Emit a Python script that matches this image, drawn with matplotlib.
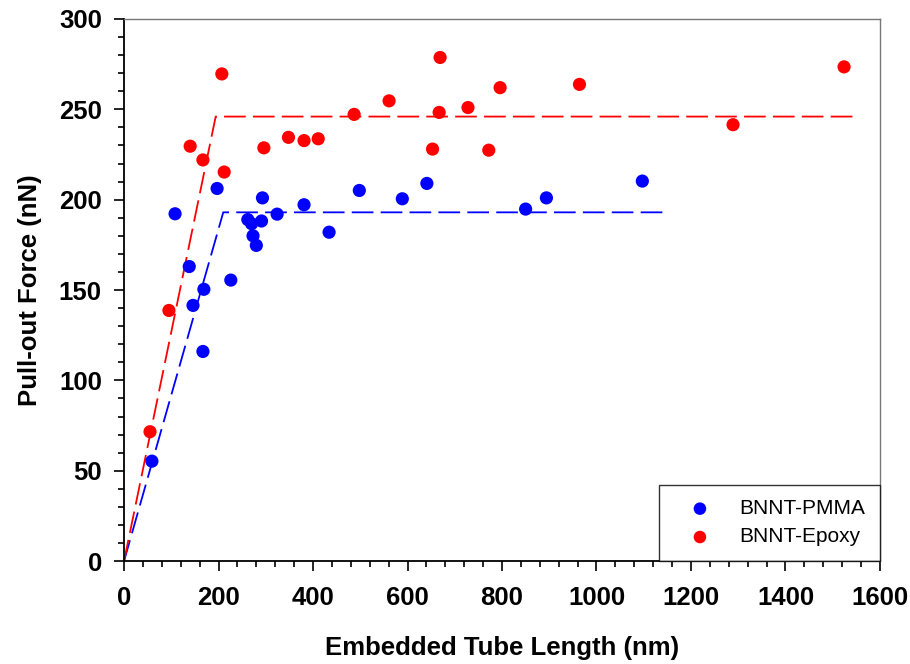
import matplotlib.pyplot as plt
from matplotlib.ticker import MultipleLocator

plt.rcParams['font.family'] = ['Liberation Sans', 'DejaVu Sans']

# BNNT-PMMA pull-out data
pmma_x = [59, 108, 138, 146, 167, 169, 197, 226, 262, 270, 273, 280, 291, 293,
          324, 381, 434, 498, 589, 641, 850, 894, 1097]
pmma_y = [55.3, 192.2, 163, 141.5, 116, 150.4, 206.2, 155.5, 189, 186.7, 180,
          174.7, 188.2, 201, 192, 197.2, 182, 205.1, 200.5, 209, 194.8, 201, 210.3]

# BNNT-Epoxy pull-out data
epoxy_x = [55, 95, 140, 167, 207, 212, 296, 348, 381, 411, 487, 561, 653, 667,
           669, 728, 772, 796, 964, 1289, 1524]
epoxy_y = [71.6, 138.7, 229.6, 222, 269.6, 215.3, 228.7, 234.5, 232.7, 233.7,
           247.2, 254.7, 228, 248.3, 278.7, 251, 227.4, 262, 263.8, 241.5, 273.5]

# bilinear fits
pmma_fit_x = [0, 210, 1151]
pmma_fit_y = [0, 193, 193]
epoxy_fit_x = [0, 194, 1549]
epoxy_fit_y = [0, 246, 246]

fig = plt.figure(figsize=(9.1, 6.64), dpi=100)
ax = fig.add_axes([0.1363, 0.155, 0.8307, 0.8164])

ax.plot(pmma_fit_x, pmma_fit_y, color='#0000ff', lw=1.3, dashes=(12, 4), zorder=2)
ax.plot(epoxy_fit_x, epoxy_fit_y, color='#ff0000', lw=1.3, dashes=(12, 4), zorder=2)

ax.scatter(pmma_x, pmma_y, s=90, color='#0000ff', edgecolors='none',
           label='BNNT-PMMA', zorder=3)
ax.scatter(epoxy_x, epoxy_y, s=90, color='#ff0000', edgecolors='none',
           label='BNNT-Epoxy', zorder=3)

ax.set_xlim(0, 1600)
ax.set_ylim(0, 300)
ax.xaxis.set_major_locator(MultipleLocator(200))
ax.xaxis.set_minor_locator(MultipleLocator(40))
ax.yaxis.set_major_locator(MultipleLocator(50))
ax.yaxis.set_minor_locator(MultipleLocator(10))

ax.tick_params(which='major', length=7, width=1.2, labelsize=18.5)
ax.tick_params(which='minor', length=4, width=1.2)
ax.tick_params(axis='x', which='major', pad=11)
ax.tick_params(axis='y', which='major', pad=9)
for lab in ax.get_xticklabels() + ax.get_yticklabels():
    lab.set_fontweight('bold')

for side in ['left', 'bottom']:
    ax.spines[side].set_linewidth(1.3)
for side in ['top', 'right']:
    ax.spines[side].set_linewidth(1.0)
    ax.spines[side].set_color('#777777')

ax.set_xlabel('Embedded Tube Length (nm)', fontsize=18.5, fontweight='bold', labelpad=19)
ax.set_ylabel('Pull-out Force (nN)', fontsize=18.5, fontweight='bold', labelpad=12)

leg = ax.legend(loc='lower right', bbox_to_anchor=(1.0, 0.0), fontsize=15,
                frameon=True, fancybox=False, borderaxespad=0, markerscale=0.95,
                handletextpad=0.65, borderpad=0.7, labelspacing=0.45,
                handlelength=2.5)
leg.get_frame().set_edgecolor('black')
leg.get_frame().set_linewidth(1.0)

fig.savefig('out.png', dpi=100)
